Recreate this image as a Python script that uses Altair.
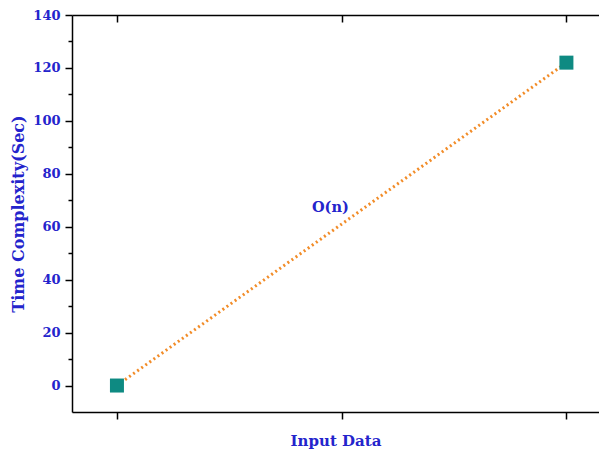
import altair as alt
import pandas as pd

# ---- data ----
input_pos = [1, 3]
time_sec = [0, 122]
x_ticks = [1, 2, 3]
y_major = [0, 20, 40, 60, 80, 100, 120, 140]
y_minor = [10, 30, 50, 70, 90, 110, 130]
label_text = ["O(n)"]
label_x = [1.95]
label_y = [67]

df = pd.DataFrame({"x": input_pos, "y": time_sec})
lab = pd.DataFrame({"x": label_x, "y": label_y, "t": label_text})

BLUE = "#2424cc"
FONT = "DejaVu Serif"
TEAL = "#0e8a82"
ORANGE = "#f28c28"

xs = alt.Scale(domain=[0.8, 3.145], nice=False, zero=False)
ys = alt.Scale(domain=[-10, 140], nice=False, zero=False)

tick_style = dict(grid=False, tickColor="black", tickWidth=1.5,
                  domainColor="black", domainWidth=1.5)

line = alt.Chart(df).mark_line(
    color=ORANGE, strokeDash=[2, 3], strokeWidth=3
).encode(
    x=alt.X("x:Q", scale=xs, axis=alt.Axis(
        orient="bottom", values=x_ticks, labels=False, tickSize=7, domain=True,
        title="Input Data", titleFont=FONT, titleFontSize=15,
        titleFontWeight="bold", titleColor=BLUE, titlePadding=14, **tick_style)),
    y=alt.Y("y:Q", scale=ys, axis=alt.Axis(
        orient="left", values=y_major, tickSize=7, domain=True,
        labelFont=FONT, labelFontSize=13, labelFontWeight="bold",
        labelColor=BLUE, labelPadding=5,
        title="Time Complexity(Sec)", titleFont=FONT, titleFontSize=16,
        titleFontWeight="bold", titleColor=BLUE, titlePadding=6, **tick_style)),
)

points = alt.Chart(df).mark_point(
    shape="square", filled=True, size=196, color=TEAL, opacity=1
).encode(
    x=alt.X("x:Q", scale=xs, axis=None),
    y=alt.Y("y:Q", scale=ys, axis=None),
)

text = alt.Chart(lab).mark_text(
    font=FONT, fontSize=14.5, fontWeight="bold", color=BLUE
).encode(
    x=alt.X("x:Q", scale=xs, axis=None),
    y=alt.Y("y:Q", scale=ys, axis=None),
    text="t:N",
)

def ghost(xaxis, yaxis):
    return alt.Chart(df).mark_point(opacity=0).encode(
        x=alt.X("x:Q", scale=xs, axis=xaxis),
        y=alt.Y("y:Q", scale=ys, axis=yaxis),
    )

minor_left = ghost(None, alt.Axis(orient="left", values=y_minor, tickSize=4,
                                  domain=False, labels=False, title="", **tick_style))
top_line = ghost(alt.Axis(orient="top", values=x_ticks, ticks=False, domain=True,
                          labels=False, title="", **tick_style), None)
top_ticks = ghost(alt.Axis(orient="top", values=x_ticks, tickSize=7, offset=-7,
                           domain=False, labels=False, title="", **tick_style), None)

chart = alt.layer(
    line, points, text, minor_left, top_line, top_ticks
).resolve_axis(
    x="independent", y="independent"
).properties(
    width=527, height=397,
    autosize=alt.AutoSizeParams(type="none"),
    padding={"left": 64, "top": 7, "right": 0, "bottom": 37},
).configure_view(stroke=None)

chart.save("out.html", embed_options={"renderer": "svg", "actions": False})
